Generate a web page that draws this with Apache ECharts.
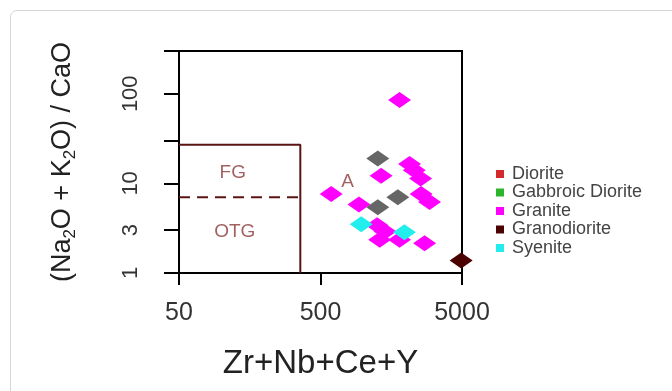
<!DOCTYPE html>
<html><head><meta charset="utf-8">
<script src="https://cdn.jsdelivr.net/npm/echarts@6/dist/echarts.min.js"></script>
<style>html,body{margin:0;padding:0;background:#fff;overflow:hidden}
#frame{position:absolute;left:10px;top:10px;width:700px;height:420px;border:1px solid #d6d6d6;border-radius:7px;}
#c{position:absolute;left:0;top:0;width:672px;height:391px}</style></head>
<body><div id="frame"></div><div id="c"></div>
<script>
// ---- data ----
const xTicks = [50, 500, 5000];
const yTicks = [1, 3, 10, 30, 100, 300];
const yLabels = [1, 3, 10, 100];
const legendNames = ['Diorite', 'Gabbroic Diorite', 'Granite', 'Granodiorite', 'Syenite'];
const diorite = [];
const gabbroicDiorite = [];
const granite = [[1810, 85], [2130, 16.5], [2300, 14], [2550, 11.3], [1340, 12.2], [595, 7.6], [2570, 7.6],
  [2950, 6.2], [935, 5.8], [1255, 3.4], [1430, 2.9], [1310, 2.35], [1810, 2.35], [2720, 2.15]];
const granodiorite = [[4930, 1.38]];
const syenite = [[970, 3.5], [1960, 2.85]];
const unclassified = [[1270, 19], [1760, 7.0], [1270, 5.4]];
const fieldBox = [[50, 27], [360, 27], [360, 1]];
const fieldDivider = [[50, 7], [360, 7]];
const fieldLabels = [{ name: 'FG', value: [120, 13.1] }, { name: 'OTG', value: [124, 2.85] }, { name: 'A', value: [777, 10.5] }];

const FONT = '"Liberation Sans", Arial, sans-serif';
const chart = echarts.init(document.getElementById('c'), null, { renderer: 'canvas' });
const pts = (name, data, color, z) => ({
  name, type: 'scatter', data, symbol: 'diamond', symbolSize: [23, 16],
  itemStyle: { color, opacity: 1 }, z: z || 3, emphasis: { disabled: true }
});
chart.setOption({
  animation: false,
  backgroundColor: 'transparent',
  textStyle: { fontFamily: FONT },
  grid: { left: 179, right: 210, top: 51, bottom: 118, containLabel: false, outerBoundsMode: 'none',
    show: true, borderColor: '#000', borderWidth: 2, backgroundColor: 'transparent' },
  legend: {
    data: legendNames, orient: 'vertical', left: 491, top: 160, icon: 'rect',
    itemWidth: 8, itemHeight: 8, itemGap: 0.5,
    textStyle: { fontFamily: FONT, fontSize: 18, color: '#444', padding: [0, 0, 0, 3] },
    selectedMode: false
  },
  xAxis: {
    type: 'log', logBase: 10, min: 50, max: 5000,
    name: 'Zr+Nb+Ce+Y', nameLocation: 'middle', nameGap: 74,
    nameTextStyle: { fontFamily: FONT, fontSize: 33, color: '#222' },
    axisLine: { show: true, lineStyle: { color: '#000', width: 2 } },
    axisTick: { show: true, customValues: xTicks, length: 12, lineStyle: { color: '#000', width: 2 } },
    axisLabel: { customValues: xTicks, fontSize: 25, color: '#333', margin: 28, fontFamily: FONT,
      formatter: v => String(Math.round(v)) },
    splitLine: { show: false }, minorTick: { show: false }
  },
  yAxis: {
    type: 'log', logBase: 10, min: 1, max: 300,
    name: '(Na{s|2}O + K{s|2}O) / CaO', nameLocation: 'middle', nameGap: 100, nameRotate: 90,
    nameTextStyle: { fontFamily: FONT, fontSize: 27, color: '#222', lineHeight: 32,
      rich: { s: { fontFamily: FONT, fontSize: 17, color: '#222', verticalAlign: 'bottom', lineHeight: 32 } } },
    axisLine: { show: true, lineStyle: { color: '#000', width: 2 } },
    axisTick: { show: true, customValues: yTicks, length: 15, lineStyle: { color: '#000', width: 2 } },
    axisLabel: { customValues: yLabels, rotate: 90, fontSize: 22, color: '#333', margin: 37, fontFamily: FONT,
      formatter: v => String(Math.round(v)) },
    splitLine: { show: false }, minorTick: { show: false }
  },
  series: [
    {
      name: 'fieldBox', type: 'line', data: fieldBox, symbol: 'none', silent: true,
      lineStyle: { color: '#5a1414', width: 2 }, z: 1
    },
    {
      name: 'fieldDivider', type: 'line', data: fieldDivider, symbol: 'none', silent: true,
      lineStyle: { color: '#5a1414', width: 2, type: [11, 7] }, z: 1
    },
    {
      name: 'fieldLabels', type: 'scatter', data: fieldLabels, symbolSize: 0, silent: true,
      label: { show: true, formatter: '{b}', position: 'inside', fontFamily: FONT, fontSize: 19, color: '#8a3a3a' }, z: 1
    },
    pts('Diorite', diorite, '#d42a2a'),
    pts('Gabbroic Diorite', gabbroicDiorite, '#2ab52a'),
    pts('Granite', granite, '#ff00ff'),
    pts('Unclassified', unclassified, '#666666', 4),
    pts('Syenite', syenite, '#22eeee', 5),
    pts('Granodiorite', granodiorite, '#4a0202', 5)
  ]
});
</script></body></html>
